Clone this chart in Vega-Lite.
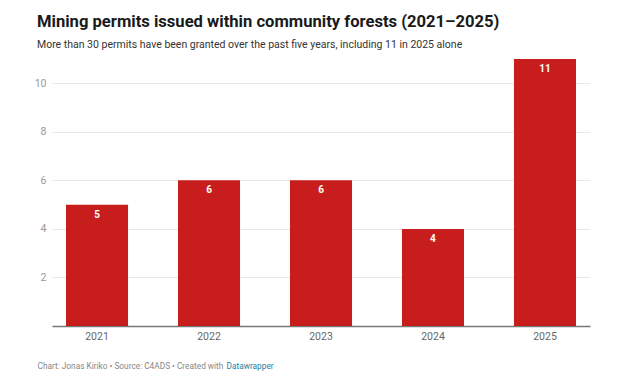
{
  "$schema": "https://vega.github.io/schema/vega-lite/v6.json",
  "width": 538,
  "height": 267,
  "autosize": "none",
  "padding": {"left": 52, "top": 59, "right": 34, "bottom": 56},
  "background": "white",
  "config": {
    "font": "Roboto",
    "view": {"stroke": null}
  },
  "title": {
    "text": "Mining permits issued within community forests (2021–2025)",
    "subtitle": "More than 30 permits have been granted over the past five years, including 11 in 2025 alone",
    "anchor": "start",
    "frame": "group",
    "dx": -15,
    "offset": 9,
    "font": "Roboto",
    "fontSize": 16.6,
    "fontWeight": "bold",
    "color": "#1a1a1a",
    "subtitleFont": "Roboto",
    "subtitleFontSize": 10.5,
    "subtitleColor": "#333333",
    "subtitlePadding": 9
  },
  "data": {
    "values": [
      {"year": "2021", "permits": 5},
      {"year": "2022", "permits": 6},
      {"year": "2023", "permits": 6},
      {"year": "2024", "permits": 4},
      {"year": "2025", "permits": 11}
    ]
  },
  "encoding": {
    "x": {
      "field": "year",
      "type": "nominal",
      "scale": {"paddingInner": 0.446, "paddingOuter": 0.125}
    },
    "y": {
      "field": "permits",
      "type": "quantitative",
      "scale": {"domain": [0, 11], "nice": false},
      "axis": {
        "title": null,
        "values": [2, 4, 6, 8, 10],
        "domain": false,
        "ticks": false,
        "labelPadding": 6,
        "labelColor": "#999999",
        "labelFontSize": 10.5,
        "gridColor": "#e8e8e8",
        "gridWidth": 1
      }
    }
  },
  "layer": [
    {
      "mark": {"type": "bar", "color": "#c71e1d"},
      "encoding": {
        "x": {
          "field": "year",
          "type": "nominal",
          "axis": {
            "orient": "bottom",
            "labelAngle": 0,
            "labelColor": "#666666",
            "labelFontSize": 10.5,
            "labelPadding": 5,
            "ticks": false,
            "domainColor": "#777777",
            "domainWidth": 1.5,
            "title": "Chart: Jonas Kiriko • Source: C4ADS • Created with",
            "titleColor": "#888888",
            "titleFontSize": 8.3,
            "titleFontWeight": "normal",
            "titleAnchor": "start",
            "titleAlign": "left",
            "titleBaseline": "alphabetic",
            "titleX": -15,
            "titleY": 42
          }
        }
      }
    },
    {
      "mark": {
        "type": "text",
        "color": "white",
        "fontWeight": "bold",
        "fontSize": 10,
        "baseline": "top",
        "dy": 5
      },
      "encoding": {
        "x": {
          "field": "year",
          "type": "nominal",
          "axis": {
            "orient": "top",
            "labels": false,
            "ticks": false,
            "domain": false,
            "grid": false,
            "title": "Datawrapper",
            "titleColor": "#1d81a2",
            "titleFontSize": 8.3,
            "titleFontWeight": "normal",
            "titleAnchor": "start",
            "titleAlign": "left",
            "titleBaseline": "alphabetic",
            "titleX": 174,
            "titleY": 309
          }
        },
        "text": {"field": "permits", "type": "quantitative"}
      }
    }
  ],
  "resolve": {"axis": {"x": "independent"}}
}
